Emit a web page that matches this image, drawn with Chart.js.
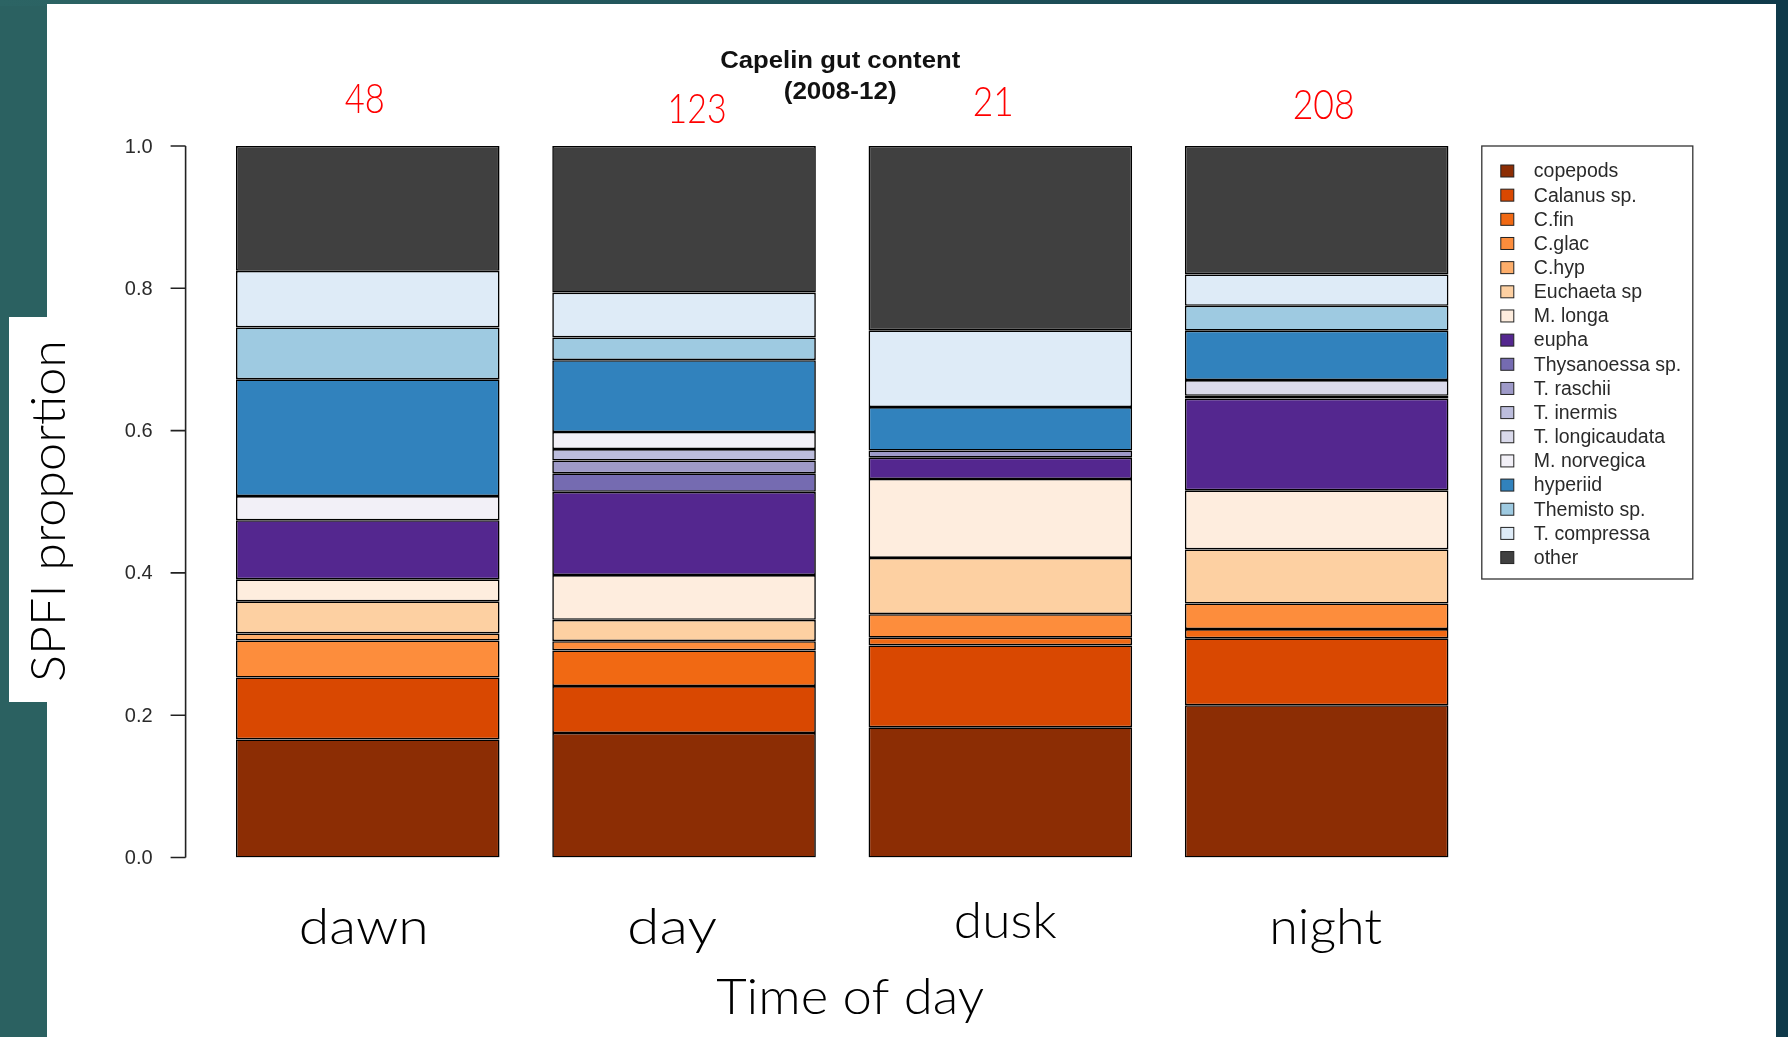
<!DOCTYPE html>
<html>
<head>
<meta charset="utf-8">
<script src="https://cdn.jsdelivr.net/npm/chart.js@4/dist/chart.umd.min.js"></script>
<style>
  html, body { margin: 0; padding: 0; }
  body {
    width: 1788px; height: 1037px; overflow: hidden; position: relative;
    background: #2b6161;
  }
  #topband {
    position: absolute; left: 0; top: 0; width: 1788px; height: 6px;
    background: linear-gradient(90deg, #2c6464 0%, #1f5159 50%, #0f3a4a 100%);
  }
  #rightband {
    position: absolute; right: 0; top: 0; width: 12px; height: 1037px; background: #0f3a4a;
  }
  #panel {
    position: absolute; left: 47px; top: 4px; width: 1729px; height: 1033px; background: #ffffff;
  }
  #labelbox {
    position: absolute; left: 9px; top: 317px; width: 40px; height: 385px; background: #ffffff;
  }
  canvas { position: absolute; left: 0; top: 0; }
</style>
</head>
<body>
<div id="topband"></div>
<div id="rightband"></div>
<div id="panel"></div>
<div id="labelbox"></div>
<canvas id="c" width="1788" height="1037"></canvas>
<script>
// Time-of-day groups and number of stomachs sampled in each
const periods = ["dawn", "day", "dusk", "night"];
const sampleSizes = [48, 123, 21, 208];

// Prey categories, stacked from the bottom of each bar upwards
const prey = [
  "copepods", "Calanus sp.", "C.fin", "C.glac", "C.hyp", "Euchaeta sp", "M. longa",
  "eupha", "Thysanoessa sp.", "T. raschii", "T. inermis", "T. longicaudata", "M. norvegica",
  "hyperiid", "Themisto sp.", "T. compressa", "other"
];

// SPFI proportion of each prey category, one list per period (same order as prey)
const dawnSPFI  = [0.166, 0.087, 0.000, 0.052, 0.010, 0.045, 0.031, 0.083, 0.000, 0.000, 0.000, 0.000, 0.034, 0.164, 0.073, 0.0795, 0.1755];
const daySPFI   = [0.175, 0.066, 0.050, 0.013, 0.000, 0.030, 0.063, 0.117, 0.026, 0.018, 0.016, 0.000, 0.024, 0.101, 0.032, 0.063, 0.206];
const duskSPFI  = [0.183, 0.115, 0.011, 0.033, 0.000, 0.079, 0.111, 0.030, 0.000, 0.010, 0.000, 0.000, 0.000, 0.061, 0.000, 0.108, 0.259];
const nightSPFI = [0.214, 0.094, 0.013, 0.036, 0.000, 0.076, 0.083, 0.129, 0.000, 0.000, 0.004, 0.022, 0.000, 0.0695, 0.035, 0.044, 0.1805];

// y axis tick values
const yTicks = [0.0, 0.2, 0.4, 0.6, 0.8, 1.0];

// Fill colours: oranges for copepods, purples for euphausiids, blues for amphipods
const preyColors = [
  "#8C2D04", "#D94801", "#F16913", "#FD8D3C", "#FDAE6B", "#FDD0A2", "#FEEDDE",
  "#54278F", "#756BB1", "#9E9AC8", "#BCBDDC", "#DADAEB", "#F2F0F7",
  "#3182BD", "#9ECAE1", "#DEEBF7",
  "#404040"
];

const byPeriod = [dawnSPFI, daySPFI, duskSPFI, nightSPFI];
const datasets = prey.map((name, i) => ({
  label: name,
  data: byPeriod.map(p => p[i]),
  backgroundColor: preyColors[i],
  borderColor: "#000000",
  borderWidth: 1.6,
  borderSkipped: false,
  barPercentage: 1 / 1.2,
  categoryPercentage: 1.0
}));

const SLIDE_FONT = "'Lato', 'Open Sans', sans-serif";
const R_FONT = "'Liberation Sans', Arial, Helvetica, sans-serif";

// draw text squeezed/stretched to a given width, centred on cx
function fitText(ctx, txt, cx, baseline, size, width, font, color, weight) {
  ctx.save();
  ctx.font = `${weight || 400} ${size}px ${font}`;
  const w = ctx.measureText(txt).width;
  ctx.translate(cx, baseline);
  ctx.scale(width / w, 1);
  ctx.fillStyle = color;
  ctx.textAlign = "center";
  ctx.textBaseline = "alphabetic";
  ctx.fillText(txt, 0, 0);
  ctx.restore();
}

const decorations = {
  id: "decorations",
  afterDraw(chart) {
    const ctx = chart.ctx;
    const xs = chart.scales.x, ys = chart.scales.y;
    const area = chart.chartArea;

    // R-style y axis, set off to the left of the bars
    const axisX = area.left - 24;
    ctx.save();
    ctx.strokeStyle = "#222";
    ctx.lineWidth = 1.6;
    ctx.beginPath();
    ctx.moveTo(axisX, ys.getPixelForValue(yTicks[0]));
    ctx.lineTo(axisX, ys.getPixelForValue(yTicks[yTicks.length - 1]));
    yTicks.forEach(v => {
      const py = ys.getPixelForValue(v);
      ctx.moveTo(axisX, py);
      ctx.lineTo(axisX - 15, py);
    });
    ctx.stroke();
    ctx.fillStyle = "#2a2a2a";
    ctx.font = `20px ${R_FONT}`;
    ctx.textAlign = "right";
    ctx.textBaseline = "middle";
    yTicks.forEach(v => ctx.fillText(v.toFixed(1), axisX - 33, ys.getPixelForValue(v) + 1));
    ctx.restore();

    // title
    const midX = (area.left + area.right) / 2;
    fitText(ctx, "Capelin gut content", midX - 2, 68, 24, 240, R_FONT, "#111", 700);
    fitText(ctx, "(2008-12)", midX - 2, 99, 24, 113, R_FONT, "#111", 700);

    // period labels and sample sizes
    const labelShift = [-4, -12, 5, 9];
    const labelBase = [944, 944, 938, 944];
    const labelWidth = [130, 90, 103, 113];
    const countShift = [-3, 13, -7, 7];
    const countBase = [113, 123, 116, 119];
    const countWidth = [40, 59, 41, 62];
    periods.forEach((p, i) => {
      const cx = xs.getPixelForValue(i);
      fitText(ctx, p, cx + labelShift[i], labelBase[i], 50, labelWidth[i], SLIDE_FONT, "#000", 300);
      fitText(ctx, String(sampleSizes[i]), cx + countShift[i], countBase[i], 42, countWidth[i], SLIDE_FONT, "#ff0000", 300);
    });

    // x axis title
    fitText(ctx, "Time of day", midX + 8, 1014, 50, 268, SLIDE_FONT, "#000", 300);

    // rotated y axis title
    ctx.save();
    ctx.translate(65, 511);
    ctx.rotate(-Math.PI / 2);
    ctx.font = `300 48px ${SLIDE_FONT}`;
    const tw = ctx.measureText("SPFI proportion").width;
    ctx.scale(342 / tw, 1);
    ctx.fillStyle = "#000";
    ctx.textAlign = "center";
    ctx.fillText("SPFI proportion", 0, 0);
    ctx.restore();

    // legend box
    const lx = area.right + 7, ly = ys.getPixelForValue(1);
    const lw = 211, lh = 433;
    ctx.save();
    ctx.strokeStyle = "#333";
    ctx.lineWidth = 1.3;
    ctx.strokeRect(lx, ly, lw, lh);
    ctx.font = `19.5px ${R_FONT}`;
    ctx.textAlign = "left";
    ctx.textBaseline = "middle";
    chart.data.datasets.forEach((ds, i) => {
      const cy = ly + 25 + i * 24.16;
      ctx.fillStyle = ds.backgroundColor;
      ctx.fillRect(lx + 19, cy - 6, 13, 12);
      ctx.strokeStyle = "#222";
      ctx.lineWidth = 1;
      ctx.strokeRect(lx + 19, cy - 6, 13, 12);
      ctx.fillStyle = "#2a2a2a";
      ctx.fillText(ds.label, lx + 52, cy + 1);
    });
    ctx.restore();
  }
};

new Chart(document.getElementById("c"), {
  type: "bar",
  data: { labels: periods, datasets },
  options: {
    responsive: false,
    animation: false,
    devicePixelRatio: 1,
    layout: { padding: { left: 209.6, right: 313.2, top: 146, bottom: 179.5 } },
    scales: {
      x: { stacked: true, display: false },
      y: { stacked: true, display: false, min: 0, max: 1 }
    },
    plugins: {
      legend: { display: false },
      tooltip: { enabled: false },
      title: { display: false }
    }
  },
  plugins: [decorations]
});
</script>
</body>
</html>
